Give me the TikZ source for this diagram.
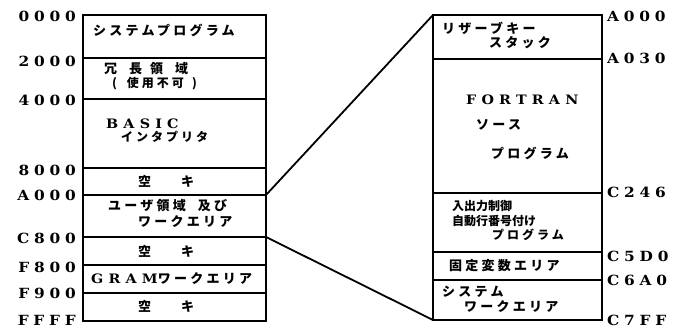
\documentclass[tikz,border=0pt]{standalone}
\usepackage{fontspec}
\newfontfamily\jp{Noto Sans CJK JP}[LetterSpace=25]
\newfontfamily\jpn{Noto Sans CJK JP}
\newfontfamily\lab{DejaVu Serif}[FakeStretch=1.1,LetterSpace=34]
\newfontfamily\labw{DejaVu Serif}[FakeStretch=1.1,LetterSpace=40]
\begin{document}
\begin{tikzpicture}[x=1pt,y=-1pt,
  addr/.style={font=\lab\bfseries\fontsize{14}{14}\selectfont,inner sep=0pt},
  jtxt/.style={font=\jp\bfseries\fontsize{13}{13}\selectfont,inner sep=0pt,anchor=west},
  jsmall/.style={font=\jp\bfseries\fontsize{12}{12}\selectfont,inner sep=0pt,anchor=west},
  jtight/.style={font=\jpn\bfseries\fontsize{12}{12}\selectfont,inner sep=0pt,anchor=west},
  ltxt/.style={font=\labw\bfseries\fontsize{13}{13}\selectfont,inner sep=0pt,anchor=west},
  divider/.style={line width=1.3pt},
  outer/.style={line width=1.8pt},
  conn/.style={line width=1.8pt}]
\useasboundingbox (0,0) rectangle (675,328);
% ---------- left memory map ----------
\coordinate (Ltl) at (83,15);
\coordinate (Lbr) at (266,321);
\foreach \y/\n in {58/a,99/b,168/c,195/d,237/e,265/f,293/g}{
  \coordinate (Ll\n) at (83,\y);
  \coordinate (Lr\n) at (266,\y);
  \draw[divider] (Ll\n) -- (Lr\n);
}
\draw[outer] (Ltl) rectangle (Lbr);
% ---------- right memory map ----------
\coordinate (Rtl) at (433,15);
\coordinate (Rbl) at (433,320);
\coordinate (Rbr) at (602,320);
\foreach \y/\n in {59/a,193/b,252/c,280/d}{
  \coordinate (Rl\n) at (433,\y);
  \coordinate (Rr\n) at (602,\y);
  \draw[divider] (Rl\n) -- (Rr\n);
}
\draw[outer] (Rtl) rectangle (Rbr);
% ---------- connectors ----------
\draw[conn] (Lrd) -- (Rtl);
\draw[conn] (Lre) -- (Rbl);
% ---------- left addresses ----------
\foreach \y/\t/\n in {16/0000/a,61/2000/b,100/4000/c,170/8000/d,195/A000/e,238/C800/f,267/F800/g,293/F900/h,320/FFFF/i}{
  \node[addr,anchor=east] (la\n) at (76,\y) {\t};
}
% ---------- right addresses ----------
\foreach \y/\t/\n in {16/A000/a,58/A030/b,192/C246/c,256/C5D0/d,280/C6A0/e,320/C7FF/f}{
  \node[addr,anchor=west] (ra\n) at (607,\y) {\t};
}
% ---------- left box texts ----------
\node[jtxt] (sysprog) at (93,30) {システムプログラム};
\node[jtxt] (jocho) at (104,69) {冗\hspace{12pt}長\hspace{8pt}領\hspace{12pt}域};
\node[jsmall] (fuka) at (112,84) {(\hspace{10pt}使用不可\hspace{8pt})};
\node[ltxt] (basic) at (106,124) {BASIC};
\node[jsmall] (interp) at (121,137) {インタプリタ};
\node[jtxt] (aki1) at (138,181) {空\hspace{30pt}キ};
\node[jtxt] (user1) at (108,206) {ユーザ領域\hspace{12pt}及び};
\node[jtxt] (user2) at (138,222) {ワークエリア};
\node[jtxt] (aki2) at (138,251) {空\hspace{30pt}キ};
\node[jtxt] (gram) at (91,279) {{\labw\fontsize{13}{13}\selectfont GRAM}ワークエリア};
\node[jtxt] (aki3) at (138,306) {空\hspace{30pt}キ};
% ---------- right box texts ----------
\node[jtxt] (reserve) at (442,28) {リザーブキー};
\node[jtxt] (stack) at (489,43) {スタック};
\node[ltxt] (fortran) at (466,100) {FORTRAN};
\node[jtxt] (source) at (476,125) {ソース};
\node[jtxt] (fprog) at (491,153) {プログラム};
\node[jtight] (io1) at (452,206) {入出力制御};
\node[jtight] (io2) at (452,221) {自動行番号付け};
\node[jsmall] (io3) at (492,235) {プログラム};
\node[jtxt] (fixed) at (449,266) {固定変数エリア};
\node[jtxt] (sys1) at (442,292) {システム};
\node[jtxt] (sys2) at (464,307) {ワークエリア};
\end{tikzpicture}
\end{document}
